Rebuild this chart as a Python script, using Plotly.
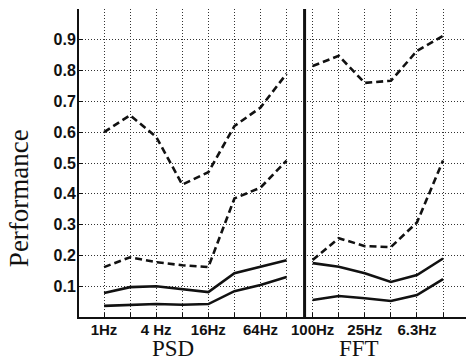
import plotly.graph_objects as go

# Data
psd_x = [0, 1, 2, 3, 4, 5, 6, 7]
fft_x = [8, 9, 10, 11, 12, 13]
tick_labels = ["1Hz", "", "4 Hz", "", "16Hz", "", "64Hz", "",
               "100Hz", "", "25Hz", "", "6.3Hz", ""]

psd_dash_hi = [0.60, 0.655, 0.585, 0.43, 0.47, 0.62, 0.68, 0.79]
psd_dash_lo = [0.162, 0.194, 0.178, 0.168, 0.162, 0.385, 0.42, 0.508]
psd_solid_hi = [0.078, 0.097, 0.100, 0.090, 0.081, 0.142, 0.162, 0.184]
psd_solid_lo = [0.036, 0.040, 0.042, 0.040, 0.042, 0.084, 0.104, 0.130]

fft_dash_hi = [0.815, 0.848, 0.760, 0.767, 0.864, 0.913]
fft_dash_lo = [0.185, 0.256, 0.230, 0.227, 0.307, 0.508]
fft_solid_hi = [0.175, 0.163, 0.142, 0.114, 0.136, 0.190]
fft_solid_lo = [0.055, 0.068, 0.061, 0.052, 0.071, 0.123]

divider_x = 7.69
group_labels = ["PSD", "FFT"]
group_centers = [2.65, 9.78]

fig = go.Figure()

dash_style = "7px,4px"
for xs, ys, dash in [
    (psd_x, psd_dash_hi, dash_style), (psd_x, psd_dash_lo, dash_style),
    (psd_x, psd_solid_hi, "solid"), (psd_x, psd_solid_lo, "solid"),
    (fft_x, fft_dash_hi, dash_style), (fft_x, fft_dash_lo, dash_style),
    (fft_x, fft_solid_hi, "solid"), (fft_x, fft_solid_lo, "solid"),
]:
    fig.add_trace(go.Scatter(
        x=xs, y=ys, mode="lines",
        line=dict(color="#111111", width=2.6, dash=dash),
        showlegend=False, hoverinfo="skip"))

# Divider line between groups
fig.add_trace(go.Scatter(
    x=[divider_x, divider_x], y=[0, 1.0], mode="lines",
    line=dict(color="#111111", width=3), showlegend=False, hoverinfo="skip"))

fig.update_layout(
    width=466, height=362,
    margin=dict(l=79, r=0, t=9, b=45),
    paper_bgcolor="white", plot_bgcolor="white",
    xaxis=dict(
        range=[-0.96, 13.88],
        tickmode="array",
        tickvals=psd_x + fft_x,
        ticktext=tick_labels,
        ticks="inside", ticklen=4, tickcolor="#111111", tickwidth=1,
        showgrid=True, gridcolor="#333333", gridwidth=1, griddash="1px,2px",
        showline=True, linecolor="#111111", linewidth=1.5,
        zeroline=False,
        ticklabelstandoff=-2,
        tickfont=dict(family="Liberation Sans", size=15, color="#111111", weight="bold"),
    ),
    yaxis=dict(
        range=[0, 1.0],
        tickmode="array",
        tickvals=[0.1, 0.2, 0.3, 0.4, 0.5, 0.6, 0.7, 0.8, 0.9, 1.0],
        ticktext=["0.1", "0.2", "0.3", "0.4", "0.5", "0.6", "0.7", "0.8", "0.9", ""],
        ticks="inside", ticklen=4, tickcolor="#111111", tickwidth=1,
        showgrid=True, gridcolor="#333333", gridwidth=1, griddash="1px,2px",
        showline=True, linecolor="#111111", linewidth=2,
        zeroline=False,
        ticklabelstandoff=-2,
        tickfont=dict(family="Liberation Sans", size=16, color="#111111", weight="bold"),
    ),
)

for lab, cx in zip(group_labels, group_centers):
    fig.add_annotation(
        x=cx, xref="x", y=-0.101, yref="paper", text=lab, showarrow=False,
        xanchor="center", yanchor="middle",
        font=dict(family="Liberation Serif", size=23, color="#111111"))

fig.add_annotation(
    x=-0.155, xref="paper", y=0.386, yref="paper", text="Performance",
    showarrow=False, textangle=-90, xanchor="center", yanchor="middle",
    font=dict(family="Liberation Serif", size=27, color="#111111"))

fig.write_html("out.html")
